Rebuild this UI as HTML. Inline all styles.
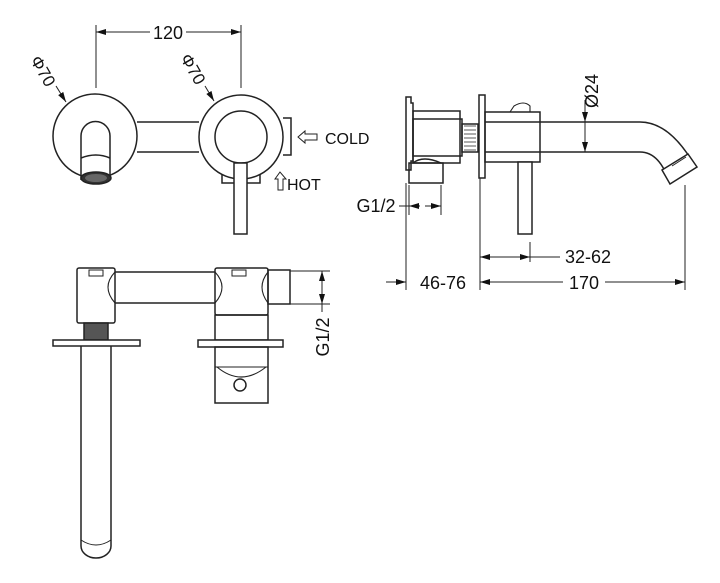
<!DOCTYPE html>
<html><head><meta charset="utf-8"><style>
html,body{margin:0;padding:0;background:#fff}
svg{display:block}
text{font-family:"Liberation Sans",Arial,sans-serif;fill:#111}
</style></head><body>
<svg width="720" height="583" viewBox="0 0 720 583" xmlns="http://www.w3.org/2000/svg">
<defs>
<marker id="a" viewBox="0 0 10 6" refX="10" refY="3" markerWidth="10" markerHeight="6" orient="auto-start-reverse" markerUnits="userSpaceOnUse"><path d="M0,0L10,3L0,6z" fill="#111"/></marker>
</defs>
<g fill="none" stroke="#222" stroke-width="1.5">
<line x1="96" y1="25" x2="96" y2="88" stroke-width="1"/>
<line x1="241" y1="25" x2="241" y2="88" stroke-width="1"/>
<line x1="96" y1="32" x2="150" y2="32" stroke-width="1" marker-start="url(#a)"/>
<line x1="186" y1="32" x2="241" y2="32" stroke-width="1" marker-end="url(#a)"/>
<circle cx="95" cy="136" r="42"/>
<circle cx="241" cy="137" r="42"/>
<circle cx="241" cy="137" r="26"/>
<path d="M137,122H199M137,152H199"/>
<path d="M81,180V136a14.5,14.5 0 0 1 29,0V180"/>
<path d="M81,158q15,-6 29,0"/>
<ellipse cx="96" cy="178" rx="15" ry="6" fill="#333"/>
<ellipse cx="96" cy="178" rx="11" ry="4" fill="#666" stroke="none"/>
<rect x="234" y="163" width="13" height="71" fill="#fff"/>
<path d="M222,174V183H234M247,183H260V174"/>
<path d="M283,118H291V155H283"/>
<line x1="56" y1="86" x2="66" y2="102" stroke-width="1" marker-end="url(#a)"/>
<line x1="205" y1="86" x2="214" y2="101" stroke-width="1" marker-end="url(#a)"/>
<path d="M298,137l7,-6v3h12v6h-12v3z" stroke-width="1"/>
<path d="M280,172l-5,7h3v11h5v-11h3z" stroke-width="1"/>

<path d="M406,97h5v6h2v58h-2v9h-5z"/>
<rect x="413" y="111" width="47" height="52"/>
<rect x="413" y="119" width="49" height="37"/>
<rect x="462" y="124" width="16" height="28"/>
<path d="M464,126h12M464,130h12M464,134h12M464,138h12M464,142h12M464,146h12M464,150h12" stroke-width="0.8"/>
<path d="M409,163h34v20h-34z"/>
<path d="M413,163q10,-8 28,0"/>
<rect x="479" y="95" width="6" height="83"/>
<rect x="485" y="112" width="55" height="50"/>
<path d="M510,112l4,-6q10,-6 16,0v6" stroke-width="1.1"/>
<path d="M485,122H640Q670,122 695,166M485,152H640Q660,152 670,184"/>
<path d="M670,184L697,167L688,154L662,170Z" fill="#fff"/>
<path d="M672,166l14,-9" stroke-width="1"/>
<rect x="518" y="162" width="14" height="72" fill="#fff"/>
<line x1="585" y1="100" x2="585" y2="122" stroke-width="1" marker-end="url(#a)"/>
<line x1="585" y1="122" x2="585" y2="152" stroke-width="1"/>
<line x1="585" y1="135" x2="585" y2="152" stroke-width="1" marker-end="url(#a)"/>
<path d="M409,185V215M441,185V215" stroke-width="1"/>
<line x1="399" y1="206" x2="409" y2="206" stroke-width="1"/>
<line x1="420" y1="206" x2="409" y2="206" stroke-width="1" marker-end="url(#a)"/>
<line x1="425" y1="206" x2="441" y2="206" stroke-width="1" marker-end="url(#a)"/>
<path d="M406,183V290M480,178V290M685,185V290M530,242V262" stroke-width="1"/>
<line x1="480" y1="257" x2="530" y2="257" stroke-width="1" marker-start="url(#a)" marker-end="url(#a)"/>
<line x1="530" y1="257" x2="560" y2="257" stroke-width="1"/>
<line x1="386" y1="282" x2="406" y2="282" stroke-width="1" marker-end="url(#a)"/>
<line x1="480" y1="282" x2="563" y2="282" stroke-width="1" marker-start="url(#a)"/>
<line x1="605" y1="282" x2="685" y2="282" stroke-width="1" marker-end="url(#a)"/>

<rect x="77" y="268" width="38" height="55" rx="2"/>
<path d="M89,270h14v6h-14z" stroke-width="1"/>
<path d="M115,272H215M115,303H215"/>
<path d="M115,272q-14,15 0,31" stroke-width="1.1"/>
<path d="M215,272q14,15 0,31" stroke-width="1.1"/>
<rect x="215" y="268" width="53" height="47" rx="2"/>
<path d="M232,270h14v6h-14z" stroke-width="1"/>
<path d="M268,272q-12,15 0,31" stroke-width="1.1"/>
<rect x="268" y="270" width="22" height="34"/>
<path d="M290,271H330M290,304H330" stroke-width="1"/>
<line x1="322" y1="288" x2="322" y2="271" stroke-width="1" marker-end="url(#a)"/>
<line x1="322" y1="288" x2="322" y2="304" stroke-width="1" marker-end="url(#a)"/>
<line x1="322" y1="304" x2="322" y2="312" stroke-width="1"/>
<rect x="84" y="323" width="24" height="17" fill="#555"/>
<rect x="53" y="340" width="87" height="6" fill="#fff"/>
<path d="M81,346V546a15,12 0 0 0 30,0V346"/>
<path d="M81,540q15,10 30,0" stroke-width="1"/>
<rect x="215" y="315" width="53" height="25"/>
<rect x="198" y="340" width="85" height="7" fill="#fff"/>
<rect x="215" y="347" width="53" height="56"/>
<path d="M215,367h53M217,367q24,20 49,0" stroke-width="1.1"/>
<circle cx="240" cy="385" r="6"/>
</g>
<g font-size="18">
<text x="168" y="39" text-anchor="middle">120</text>
<text transform="translate(38,74) rotate(60)" text-anchor="middle" font-size="17">Φ70</text>
<text transform="translate(188,72) rotate(60)" text-anchor="middle" font-size="17">Φ70</text>
<text x="325" y="144" font-size="16">COLD</text>
<text x="287" y="190" font-size="16">HOT</text>
<text transform="translate(598,91) rotate(-90)" text-anchor="middle">Ø24</text>
<text x="376" y="212" text-anchor="middle">G1/2</text>
<text x="588" y="263" text-anchor="middle">32-62</text>
<text x="443" y="289" text-anchor="middle">46-76</text>
<text x="584" y="289" text-anchor="middle">170</text>
<text transform="translate(329,337) rotate(-90)" text-anchor="middle">G1/2</text>
</g>
</svg>
</body></html>
